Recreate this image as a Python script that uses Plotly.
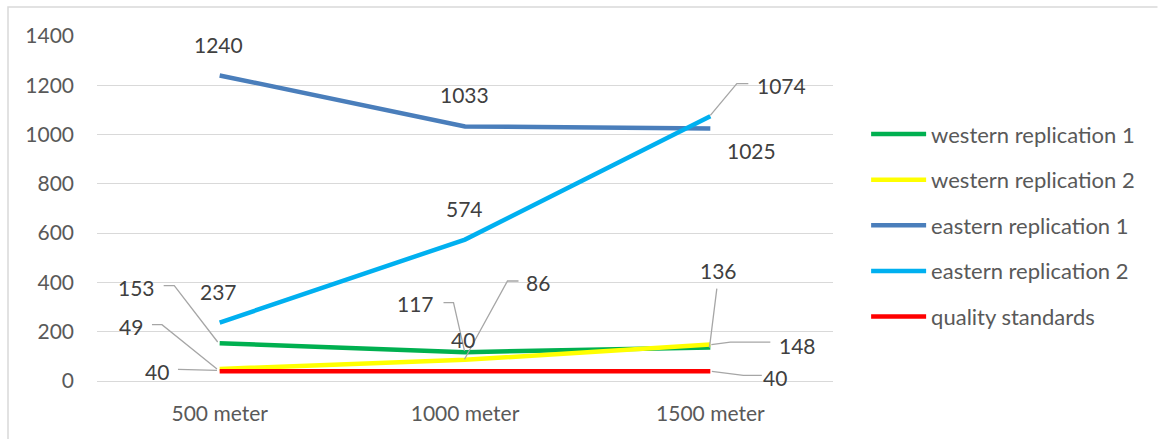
import plotly.graph_objects as go

# ---- data ----
distances = ["500 meter", "1000 meter", "1500 meter"]
series_names = [
    "western replication 1",
    "western replication 2",
    "eastern replication 1",
    "eastern replication 2",
    "quality standards",
]
western_rep1 = [153, 117, 136]
western_rep2 = [49, 86, 148]
eastern_rep1 = [1240, 1033, 1025]
eastern_rep2 = [237, 574, 1074]
quality_std = [40, 40, 40]
y_ticks = [0, 200, 400, 600, 800, 1000, 1200, 1400]

series_values = [western_rep1, western_rep2, eastern_rep1, eastern_rep2, quality_std]
series_colors = ["#00B050", "#FFFF00", "#4A7EBB", "#00B0F0", "#FF0000"]

FONT = "Lato"
LABEL_COLOR = "#404040"
AXIS_TEXT = "#595959"
GRID = "#D9D9D9"
LEADER = "#A6A6A6"

# data-label placement: pixel offsets (dx right, dy down) from each point
label_offsets = [
    [(-83, -56), (-50, -49), (8, -77)],
    [(-89, -42), (73, -77), (87, 1)],
    [(-1, -31), (-1, -32), (41, 22)],
    [(-1, -31), (-1, -31), (71, -31)],
    [(-63, 0), (-2, -32), (65, 6)],
]
# leader-line paths (pixel points, dx right, dy down) relative to each point; None = no leader
leader_paths = [
    [[(-56, -57.7), (-45.4, -57.7), (-2, -1.3)],
     [(-21.5, -49.6), (-11.5, -49.6), (-0.5, -1.2)],
     [(6.5, -58.9), (-0.9, 0.1)]],
    [[(-67.7, -44.3), (-57.7, -44.3), (-2.7, 0)],
     [(53.5, -78.8), (42.5, -78.8), (-0.5, -0.5)],
     [(1, 0), (20, -2.5), (60, -2.5)]],
    [None, None, None],
    [None, None,
     [(0, -1), (26.5, -32.7), (38, -32.7)]],
    [[(-41.7, -1.8), (-2.7, -0.8)],
     None,
     [(1.5, 0.2), (33, 4.2), (51.5, 4.2)]],
]

fig = go.Figure()

for name, vals, color in zip(series_names, series_values, series_colors):
    fig.add_trace(go.Scatter(
        x=distances, y=vals, name=name, mode="lines",
        line=dict(color=color, width=4.5),
        legendgroup=name,
        hoverinfo="skip",
    ))

annotations = []
shapes = []
for s, vals in enumerate(series_values):
    for i, v in enumerate(vals):
        dx, dy = label_offsets[s][i]
        annotations.append(dict(
            x=distances[i], y=v, xref="x", yref="y",
            text=str(v), showarrow=False,
            xshift=dx, yshift=-dy,
            font=dict(family=FONT, size=21, color=LABEL_COLOR),
        ))
        pts = leader_paths[s][i]
        if pts:
            path = "M" + " L".join(f"{px},{-py}" for px, py in pts)
            shapes.append(dict(
                type="path", path=path,
                xref="x", yref="y",
                xsizemode="pixel", ysizemode="pixel",
                xanchor=distances[i], yanchor=v,
                line=dict(color=LEADER, width=1.3),
                layer="above",
            ))

# outer chart frame (top and left edges)
W, H = 1158, 439
ML, MR, MT, MB = 97, 325, 36, 58
pw, ph = W - ML - MR, H - MT - MB
fx0 = (8 - ML) / pw
fx1 = (1157.5 - ML) / pw
fy_top = 1 + (MT - 7) / ph
fy_bot = -(MB) / ph
shapes.append(dict(
    type="path",
    path=f"M{fx0},{fy_bot} L{fx0},{fy_top} L{fx1},{fy_top}",
    xref="paper", yref="paper",
    line=dict(color="#D9D9D9", width=1.5),
    layer="below",
))

fig.update_layout(
    width=W, height=H,
    margin=dict(l=ML, r=MR, t=MT, b=MB),
    paper_bgcolor="white", plot_bgcolor="white",
    font=dict(family=FONT, size=21, color=AXIS_TEXT),
    showlegend=True,
    legend=dict(
        x=1.045, y=0.776, xanchor="left", yanchor="top",
        font=dict(family=FONT, size=22, color=AXIS_TEXT),
        itemwidth=55,
        tracegroupgap=14,
        bgcolor="rgba(0,0,0,0)",
    ),
    annotations=annotations,
    shapes=shapes,
    xaxis=dict(
        type="category", range=[-0.5, 2.5],
        showgrid=False, showline=False, zeroline=False,
        ticks="", ticklabelstandoff=18,
        tickfont=dict(family=FONT, size=21, color=AXIS_TEXT),
        fixedrange=True,
    ),
    yaxis=dict(
        range=[0, 1400], tickvals=y_ticks,
        showgrid=True, gridcolor=GRID, gridwidth=1.3,
        zeroline=True, zerolinecolor=GRID, zerolinewidth=1.3,
        showline=False, ticks="", ticklabelstandoff=22,
        tickfont=dict(family=FONT, size=21, color=AXIS_TEXT),
        fixedrange=True,
    ),
)

fig.write_html("out.html")
